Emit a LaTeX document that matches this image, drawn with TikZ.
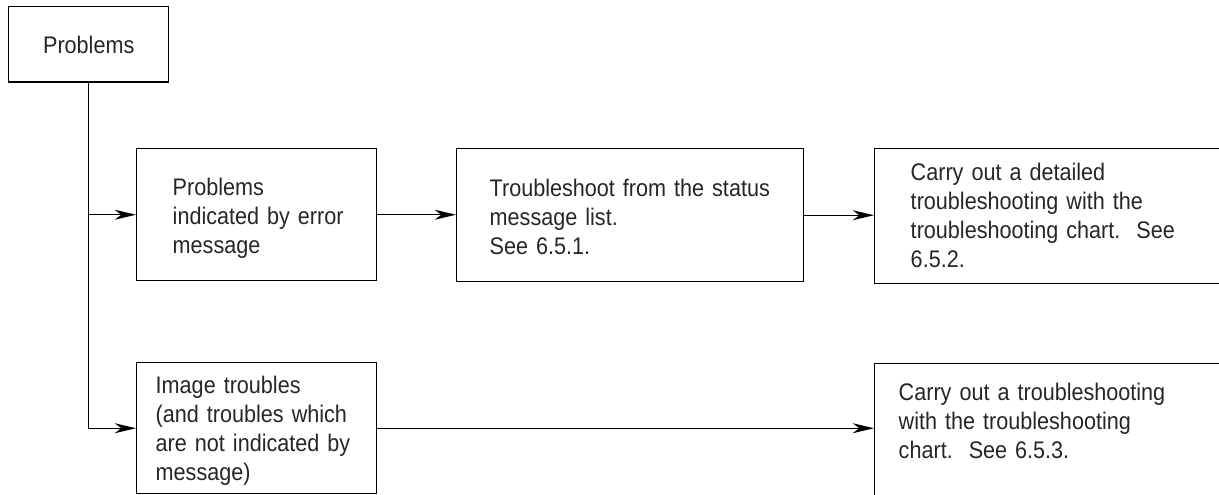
\documentclass[tikz,border=0pt]{standalone}
\usepackage{fontspec}
\setmainfont{Liberation Sans}[FakeStretch=0.9]
\usetikzlibrary{arrows.meta}

\begin{document}
\begin{tikzpicture}[x=0.75pt,y=-0.75pt,line width=1pt,>={Stealth[length=16pt,width=7.5pt,inset=5pt]},
  caja/.style={draw,line width=1.1pt,anchor=north west,align=left,inner ysep=0pt,
    text=black!85,font={\fontsize{18pt}{21.75pt}\selectfont}}]
  \useasboundingbox (0,0) rectangle (1219,495);
  \clip (0,0) rectangle (1219,495);
  % cajas
  \node[caja,align=center,inner xsep=0pt,text width=120pt,text height=34.9pt,text depth=21.4pt]
    (problems) at (8,6) {Problems};
  \node[caja,inner xsep=27pt,text width=126pt,text height=35.25pt,text depth=63.75pt]
    (errmsg) at (136,148) {Problems\\ \mbox{indicated by error}\\ message};
  \node[caja,inner xsep=24.75pt,text width=210.75pt,text height=36pt,text depth=63.75pt]
    (statlist) at (456,148) {Troubleshoot from the status\\ message list.\\ See 6.5.1.};
  \node[caja,inner xsep=27pt,text width=225pt,text height=24pt,text depth=77.25pt]
    (detail) at (874,148) {Carry out a detailed\\ troubleshooting with the\\ troubleshooting chart.\ \ See\\ 6.5.2.};
  \node[caja,inner xsep=14.25pt,text width=151.5pt,text height=23.25pt,text depth=75pt]
    (image) at (136,362) {Image troubles\\ (and troubles which\\ are not indicated by\\ message)};
  \node[caja,inner xsep=18pt,text width=225pt,text height=27.75pt,text depth=90pt]
    (chart) at (874,363) {Carry out a troubleshooting\\ with the troubleshooting\\ chart.\ \ See 6.5.3.};
  % conectores
  \draw[->] (problems.south) |- (image.west);
  \draw[->] (problems.south |- errmsg.west) -- (errmsg.west);
  \draw[->] (errmsg.east) -- (errmsg.east -| statlist.west);
  \draw[->] (statlist.east) -- (statlist.east -| detail.west);
  \draw[->] (image.east) -- (image.east -| chart.west);
\end{tikzpicture}
\end{document}
